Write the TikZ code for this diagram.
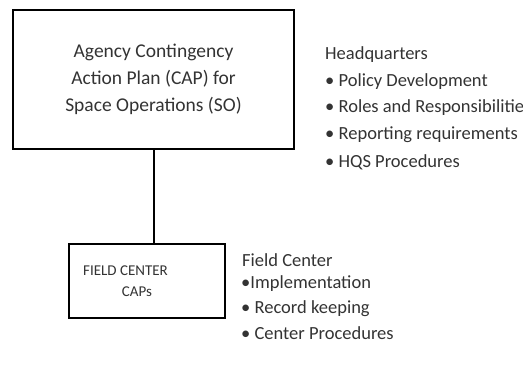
\documentclass[tikz,border=0pt]{standalone}
\usepackage{fontspec}
\setmainfont{Carlito}
\begin{document}
\begin{tikzpicture}[x=1pt,y=-1pt,
  frame/.style={draw=black, line width=2pt, inner sep=0pt, text=black!80},
  link/.style={draw=black, line width=2pt},
  boxtext/.style={inner sep=0pt, text=black!80, font=\fontsize{15}{21}\selectfont},
  item/.style={anchor=west, inner sep=0pt, text=black!80, font=\fontsize{18.5}{22}\selectfont},
]
\useasboundingbox (0,0) rectangle (523,365);

% agency-level plan
\node[frame, minimum width=281pt, minimum height=139pt, align=center,
      font=\fontsize{19.5}{27}\selectfont] (sop) at (153.5,79.5)
  {Agency Contingency\\Action Plan (CAP) for\\Space Operations (SO)};

% field center plans
\node[frame, minimum width=156pt, minimum height=74pt] (fc) at (147,281) {};
\node[boxtext] (fc1) at (125.5,271) {FIELD CENTER};
\node[boxtext] (fc2) at (137,292) {CAPs};

\draw[link] (sop.south) -- (sop.south |- fc.north);

% headquarters duties
\node[item] (hq0) at (325,55) {Headquarters};
\node[item] (hq1) at (325,82) {\textbullet\ Policy Development};
\node[item] (hq2) at (325,108) {\textbullet\ Roles and Responsibilities};
\node[item] (hq3) at (325,135) {\textbullet\ Reporting requirements};
\node[item] (hq4) at (325,162) {\textbullet\ HQS Procedures};

% field center duties
\node[item] (fd0) at (242,260) {Field Center};
\node[item] (fd1) at (241,284) {\textbullet Implementation};
\node[item] (fd2) at (241,309) {\textbullet\ Record keeping};
\node[item] (fd3) at (241,333) {\textbullet\ Center Procedures};
\end{tikzpicture}
\end{document}
